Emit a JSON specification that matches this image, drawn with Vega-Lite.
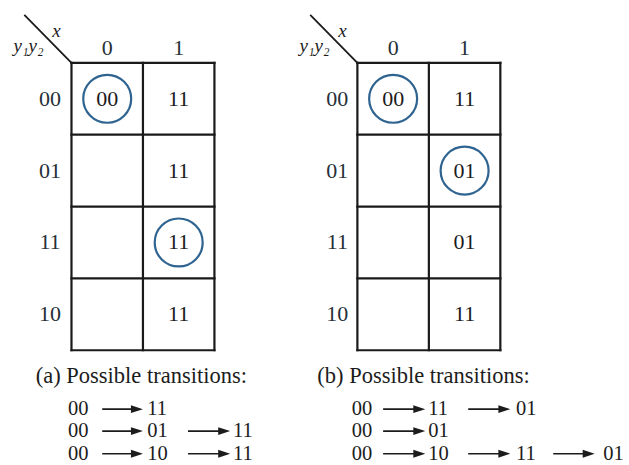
{
  "$schema": "https://vega.github.io/schema/vega-lite/v6.json",
  "width": 629,
  "height": 465,
  "autosize": {"type": "fit", "contains": "padding"},
  "padding": 0,
  "background": "white",
  "config": {"view": {"stroke": null}},
  "datasets": {
    "grid": [
      {"x": 0, "y": 0, "x2": 0, "y2": 4}, {"x": 1, "y": 0, "x2": 1, "y2": 4}, {"x": 2, "y": 0, "x2": 2, "y2": 4},
      {"x": 0, "y": 0, "x2": 2, "y2": 0}, {"x": 0, "y": 1, "x2": 2, "y2": 1}, {"x": 0, "y": 2, "x2": 2, "y2": 2},
      {"x": 0, "y": 3, "x2": 2, "y2": 3}, {"x": 0, "y": 4, "x2": 2, "y2": 4},
      {"x": 4, "y": 0, "x2": 4, "y2": 4}, {"x": 5, "y": 0, "x2": 5, "y2": 4}, {"x": 6, "y": 0, "x2": 6, "y2": 4},
      {"x": 4, "y": 0, "x2": 6, "y2": 0}, {"x": 4, "y": 1, "x2": 6, "y2": 1}, {"x": 4, "y": 2, "x2": 6, "y2": 2},
      {"x": 4, "y": 3, "x2": 6, "y2": 3}, {"x": 4, "y": 4, "x2": 6, "y2": 4}
    ],
    "diag": [
      {"x": -0.66, "y": -0.667, "x2": 0, "y2": 0},
      {"x": 3.34, "y": -0.667, "x2": 4, "y2": 0}
    ],
    "cells": [
      {"map": "a", "xin": "0", "state": "00", "x": 0.5, "y": 0.5, "val": "00", "circled": true},
      {"map": "a", "xin": "1", "state": "00", "x": 1.5, "y": 0.5, "val": "11", "circled": false},
      {"map": "a", "xin": "0", "state": "01", "x": 0.5, "y": 1.5, "val": "", "circled": false},
      {"map": "a", "xin": "1", "state": "01", "x": 1.5, "y": 1.5, "val": "11", "circled": false},
      {"map": "a", "xin": "0", "state": "11", "x": 0.5, "y": 2.5, "val": "", "circled": false},
      {"map": "a", "xin": "1", "state": "11", "x": 1.5, "y": 2.5, "val": "11", "circled": true},
      {"map": "a", "xin": "0", "state": "10", "x": 0.5, "y": 3.5, "val": "", "circled": false},
      {"map": "a", "xin": "1", "state": "10", "x": 1.5, "y": 3.5, "val": "11", "circled": false},
      {"map": "b", "xin": "0", "state": "00", "x": 4.5, "y": 0.5, "val": "00", "circled": true},
      {"map": "b", "xin": "1", "state": "00", "x": 5.5, "y": 0.5, "val": "11", "circled": false},
      {"map": "b", "xin": "0", "state": "01", "x": 4.5, "y": 1.5, "val": "", "circled": false},
      {"map": "b", "xin": "1", "state": "01", "x": 5.5, "y": 1.5, "val": "01", "circled": true},
      {"map": "b", "xin": "0", "state": "11", "x": 4.5, "y": 2.5, "val": "", "circled": false},
      {"map": "b", "xin": "1", "state": "11", "x": 5.5, "y": 2.5, "val": "01", "circled": false},
      {"map": "b", "xin": "0", "state": "10", "x": 4.5, "y": 3.5, "val": "", "circled": false},
      {"map": "b", "xin": "1", "state": "10", "x": 5.5, "y": 3.5, "val": "11", "circled": false}
    ],
    "labels": [
      {"x": 0.5, "y": -0.21, "t": "0"}, {"x": 1.5, "y": -0.21, "t": "1"},
      {"x": 4.5, "y": -0.21, "t": "0"}, {"x": 5.5, "y": -0.21, "t": "1"},
      {"x": -0.3, "y": 0.5, "t": "00"}, {"x": -0.3, "y": 1.5, "t": "01"},
      {"x": -0.3, "y": 2.5, "t": "11"}, {"x": -0.3, "y": 3.5, "t": "10"},
      {"x": 3.72, "y": 0.5, "t": "00"}, {"x": 3.72, "y": 1.5, "t": "01"},
      {"x": 3.72, "y": 2.5, "t": "11"}, {"x": 3.72, "y": 3.5, "t": "10"}
    ],
    "vars": [
      {"x": -0.21, "y": -0.44, "t": "x"}, {"x": -0.6, "y": -0.24, "t": "y₁y₂"},
      {"x": 3.79, "y": -0.44, "t": "x"}, {"x": 3.4, "y": -0.24, "t": "y₁y₂"}
    ],
    "captions": [
      {"x": -0.5, "y": 4.36, "t": "(a) Possible transitions:"},
      {"x": 3.44, "y": 4.36, "t": "(b) Possible transitions:"}
    ],
    "tokens": [
      {"x": -0.05, "y": 4.82, "t": "00"}, {"x": 1.06, "y": 4.82, "t": "11"},
      {"x": -0.05, "y": 5.125, "t": "00"}, {"x": 1.06, "y": 5.125, "t": "01"}, {"x": 2.26, "y": 5.125, "t": "11"},
      {"x": -0.05, "y": 5.44, "t": "00"}, {"x": 1.06, "y": 5.44, "t": "10"}, {"x": 2.26, "y": 5.44, "t": "11"},
      {"x": 3.92, "y": 4.82, "t": "00"}, {"x": 4.99, "y": 4.82, "t": "11"}, {"x": 6.22, "y": 4.82, "t": "01"},
      {"x": 3.92, "y": 5.125, "t": "00"}, {"x": 4.99, "y": 5.125, "t": "01"},
      {"x": 3.92, "y": 5.44, "t": "00"}, {"x": 4.99, "y": 5.44, "t": "10"}, {"x": 6.22, "y": 5.44, "t": "11"}, {"x": 7.44, "y": 5.44, "t": "01"}
    ],
    "arrows": [
      {"x": 0.43, "x2": 1.0, "y": 4.82},
      {"x": 0.43, "x2": 1.0, "y": 5.125}, {"x": 1.63, "x2": 2.22, "y": 5.125},
      {"x": 0.43, "x2": 1.0, "y": 5.44}, {"x": 1.63, "x2": 2.22, "y": 5.44},
      {"x": 4.36, "x2": 4.95, "y": 4.82}, {"x": 5.55, "x2": 6.14, "y": 4.82},
      {"x": 4.36, "x2": 4.95, "y": 5.125},
      {"x": 4.36, "x2": 4.95, "y": 5.44}, {"x": 5.55, "x2": 6.14, "y": 5.44}, {"x": 6.74, "x2": 7.32, "y": 5.44}
    ]
  },
  "encoding": {
    "x": {"field": "x", "type": "quantitative", "scale": {"domain": [-1, 7.8], "nice": false, "zero": false}, "axis": null},
    "y": {"field": "y", "type": "quantitative", "scale": {"domain": [-0.875, 5.583], "nice": false, "zero": false, "reverse": true}, "axis": null}
  },
  "layer": [
    {
      "data": {"name": "grid"},
      "mark": {"type": "rule", "stroke": "#1a1a1a", "strokeWidth": 2.2, "strokeCap": "square"},
      "encoding": {"x2": {"field": "x2"}, "y2": {"field": "y2"}}
    },
    {
      "data": {"name": "diag"},
      "mark": {"type": "rule", "stroke": "#1a1a1a", "strokeWidth": 1.8},
      "encoding": {"x2": {"field": "x2"}, "y2": {"field": "y2"}}
    },
    {
      "data": {"name": "cells"},
      "transform": [{"filter": "datum.circled"}],
      "mark": {"type": "point", "shape": "circle", "filled": false, "stroke": "#2f6490", "strokeWidth": 2.2, "size": 2300, "opacity": 1},
      "encoding": {}
    },
    {
      "data": {"name": "cells"},
      "transform": [{"filter": "datum.val != ''"}],
      "mark": {"type": "text", "font": "Liberation Serif", "fontSize": 22, "color": "#1c1c1c", "align": "center", "baseline": "middle"},
      "encoding": {"text": {"field": "val"}}
    },
    {
      "data": {"name": "labels"},
      "mark": {"type": "text", "font": "Liberation Serif", "fontSize": 22, "color": "#263038", "align": "center", "baseline": "middle"},
      "encoding": {"text": {"field": "t"}}
    },
    {
      "data": {"name": "vars"},
      "mark": {"type": "text", "font": "Liberation Serif", "fontStyle": "italic", "fontSize": 19, "color": "#1c1c1c", "align": "center", "baseline": "middle"},
      "encoding": {"text": {"field": "t"}}
    },
    {
      "data": {"name": "captions"},
      "mark": {"type": "text", "font": "Liberation Serif", "fontSize": 22.5, "color": "#1c1c1c", "align": "left", "baseline": "middle"},
      "encoding": {"text": {"field": "t"}}
    },
    {
      "data": {"name": "tokens"},
      "mark": {"type": "text", "font": "Liberation Serif", "fontSize": 20.5, "color": "#1c1c1c", "align": "left", "baseline": "middle"},
      "encoding": {"text": {"field": "t"}}
    },
    {
      "data": {"name": "arrows"},
      "mark": {"type": "rule", "stroke": "#1c1c1c", "strokeWidth": 1.7, "x2Offset": -6},
      "encoding": {"x2": {"field": "x2"}}
    },
    {
      "data": {"name": "arrows"},
      "mark": {"type": "point", "shape": "M-1,-0.65L1,0L-1,0.65Z", "filled": true, "color": "#1c1c1c", "opacity": 1, "size": 144, "xOffset": -6},
      "encoding": {"x": {"field": "x2", "type": "quantitative"}}
    }
  ]
}
